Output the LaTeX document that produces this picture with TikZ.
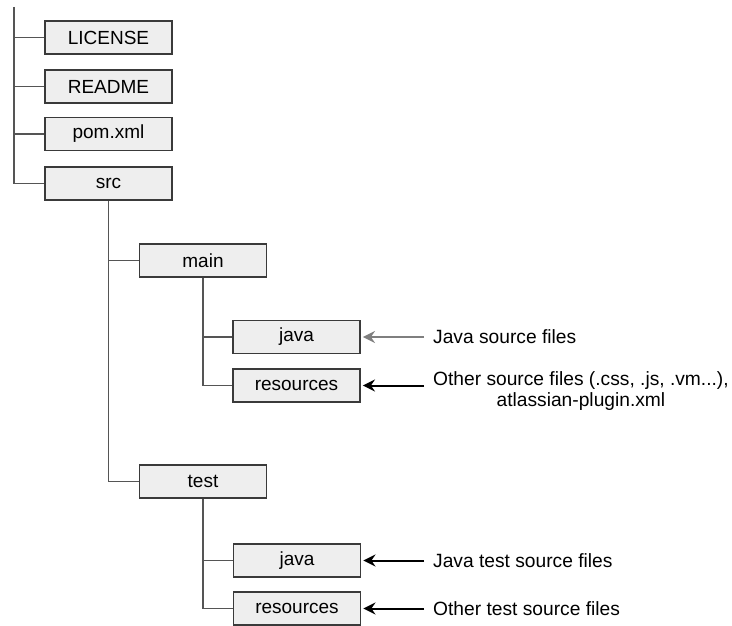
\documentclass[tikz,border=0pt]{standalone}
\usepackage{fontspec}
\setmainfont{Liberation Sans}
\usetikzlibrary{arrows.meta}
\definecolor{boxfill}{HTML}{EEEEEE}
\definecolor{boxline}{HTML}{3A3A3A}
\definecolor{treeline}{HTML}{555555}
\definecolor{softarrow}{HTML}{7F7F7F}
\tikzset{
  folder/.style={draw=boxline, line width=1.9pt, fill=boxfill,
    minimum width=127pt, minimum height=33pt, inner sep=0pt,
    font=\fontsize{19}{22}\selectfont},
  branch/.style={draw=treeline, line width=1.6pt},
  note/.style={anchor=west, inner sep=0pt, align=center,
    font=\fontsize{19.2}{21}\selectfont},
  pointer/.style={line width=2pt, -{Stealth[length=12pt,width=12pt,inset=4pt]}}
}
\begin{document}
\begin{tikzpicture}[x=1pt,y=-1pt]
  \useasboundingbox (0,0) rectangle (732,626);

  % top-level entries
  \node[folder] (license) at (108.5,37.5) {LICENSE};
  \node[folder] (readme)  at (108.5,86.5) {README};
  \node[folder] (pom)     at (108.5,134)  {pom.xml};
  \node[folder] (src)     at (108.5,183.5){src};

  % source folders
  \node[folder] (main)  at (203,260.5) {main};
  \node[folder] (mjava) at (296.5,337) {java};
  \node[folder] (mres)  at (296.5,385.5) {resources};
  \node[folder] (test)  at (203,481.5) {test};
  \node[folder] (tjava) at (297,560.5) {java};
  \node[folder] (tres)  at (297,608.5) {resources};

  % root trunk
  \coordinate (root) at (14,7);
  \draw[branch] (root) |- (src.west);
  \draw[branch] (root |- license) -- (license.west);
  \draw[branch] (root |- readme) -- (readme.west);
  \draw[branch] (root |- pom) -- (pom.west);

  % src subtree
  \draw[branch] (src.south) |- (test.west);
  \draw[branch] (src.south |- main) -- (main.west);

  % main subtree
  \draw[branch] (main.south) |- (mres.west);
  \draw[branch] (main.south |- mjava) -- (mjava.west);

  % test subtree
  \draw[branch] (test.south) |- (tres.west);
  \draw[branch] (test.south |- tjava) -- (tjava.west);

  % annotations
  \node[note] (n1) at (433,337) {Java source files};
  \node[note] (n2) at (433,391.5) {Other source files (.css, .js, .vm...),\\atlassian-plugin.xml};
  \node[note] (n3) at (433,560.5) {Java test source files};
  \node[note] (n4) at (433,608.5) {Other test source files};

  \draw[pointer, softarrow] ([xshift=-9pt]n1.west |- mjava) -- ([xshift=2pt]mjava.east);
  \draw[pointer, black] ([xshift=-9pt]n2.west |- mres) -- ([xshift=2pt]mres.east);
  \draw[pointer, black] ([xshift=-9pt]n3.west |- tjava) -- ([xshift=2pt]tjava.east);
  \draw[pointer, black] ([xshift=-9pt]n4.west |- tres) -- ([xshift=2pt]tres.east);
\end{tikzpicture}
\end{document}
